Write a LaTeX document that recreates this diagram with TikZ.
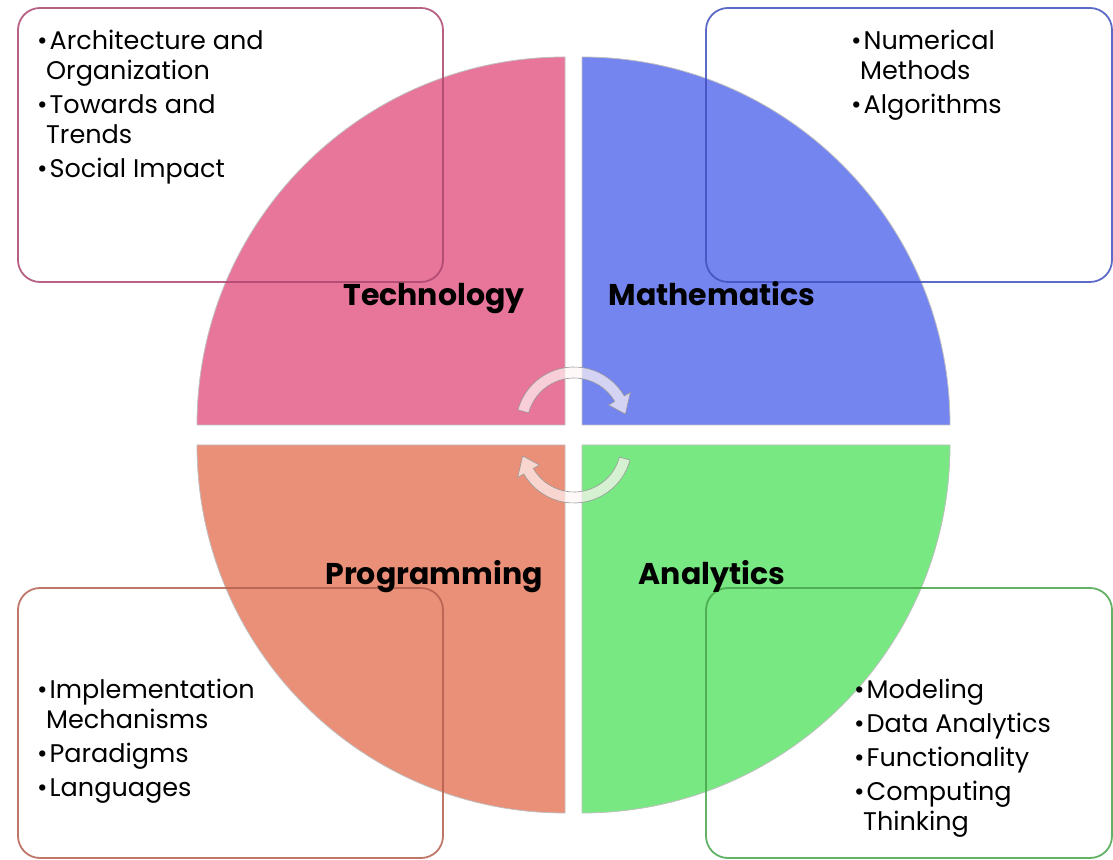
\documentclass[tikz,border=0pt]{standalone}
\usepackage{fontspec}
\setmainfont{Poppins}
\usetikzlibrary{positioning}

\definecolor{techpink}{RGB}{232,118,154}
\definecolor{mathblue}{RGB}{117,133,240}
\definecolor{progred}{RGB}{234,143,120}
\definecolor{anagreen}{RGB}{120,232,130}
\definecolor{techline}{RGB}{170,70,110}
\definecolor{mathline}{RGB}{65,80,190}
\definecolor{progline}{RGB}{180,95,80}
\definecolor{analine}{RGB}{70,165,75}

\tikzset{
  quad/.style={draw=black!25, line width=0.8pt},
  infobox/.style={rectangle, rounded corners=22pt, line width=1.8pt,
                  draw opacity=0.85, minimum height=274pt, inner sep=0pt},
  bullets/.style={align=left, anchor=north west, inner sep=0pt,
                  font=\fontsize{25.5}{30}\selectfont},
  title/.style={font=\fontsize{30}{34}\selectfont\bfseries, inner sep=0pt,
                anchor=base},
  cyclearrow/.style={draw=black!40, line width=0.6pt, fill=white!85!pink,
                     fill opacity=0.7},
}
\newcommand{\blt}{\textbullet\hspace{2pt}}
\newcommand{\cont}{\hspace*{9pt}}

\begin{document}
\begin{tikzpicture}[x=1pt, y=1pt]
  \useasboundingbox (0,0) rectangle (1113,859);

  % four quarters of the disc
  \fill[quad, fill=techpink] (565,434) -- ++(-368,0)
    arc[start angle=180, end angle=90, radius=368] -- cycle;
  \fill[quad, fill=mathblue] (582,434) -- ++(0,368)
    arc[start angle=90, end angle=0, radius=368] -- cycle;
  \fill[quad, fill=progred] (565,414) -- ++(-368,0)
    arc[start angle=180, end angle=270, radius=368] -- cycle;
  \fill[quad, fill=anagreen] (582,414) -- ++(368,0)
    arc[start angle=0, end angle=-90, radius=368] -- cycle;

  % cycle arrows in the middle
  \begin{scope}[shift={(574,434)}]
    \filldraw[cyclearrow] (165:47) -- (165:58)
      arc[start angle=165, end angle=30, radius=58] -- (30:65)
      -- (12:52.5) -- (30:40) -- (30:47)
      arc[start angle=30, end angle=165, radius=47] -- cycle;
  \end{scope}
  \begin{scope}[shift={(574,414)}]
    \filldraw[cyclearrow] (-15:47) -- (-15:58)
      arc[start angle=-15, end angle=-150, radius=58] -- (-150:65)
      -- (-168:52.5) -- (-150:40) -- (-150:47)
      arc[start angle=-150, end angle=-15, radius=47] -- cycle;
  \end{scope}

  % boxes
  \node[infobox, draw=techline, minimum width=425pt] (techbox) at (230.5,714) {};
  \node[infobox, draw=mathline, minimum width=406pt] (mathbox) at (909,714) {};
  \node[infobox, draw=progline, minimum width=425pt, minimum height=270pt]
    (progbox) at (230.5,136) {};
  \node[infobox, draw=analine, minimum width=406pt, minimum height=270pt]
    (anabox) at (909,136) {};

  % bullet lists
  \node[bullets] (techlist) at (37,829)
    {\blt Architecture and\\\cont Organization\\[4pt]
     \blt Towards and\\\cont Trends\\[4pt]
     \blt Social Impact};
  \node[bullets] (mathlist) at (851,829)
    {\blt Numerical\\\cont Methods\\[4pt]
     \blt Algorithms};
  \node[bullets] (proglist) at (37,180)
    {\blt Implementation\\\cont Mechanisms\\[4pt]
     \blt Paradigms\\[4pt]
     \blt Languages};
  \node[bullets] (analist) at (854,180)
    {\blt Modeling\\[4pt]
     \blt Data Analytics\\[4pt]
     \blt Functionality\\[4pt]
     \blt Computing\\\cont Thinking};

  % quarter titles
  \node[title] (tech) at (434,553) {Technology};
  \node[title] (math) at (712,553) {Mathematics};
  \node[title] (prog) at (434,274) {Programming};
  \node[title] (ana) at (712,274) {Analytics};
\end{tikzpicture}
\end{document}
